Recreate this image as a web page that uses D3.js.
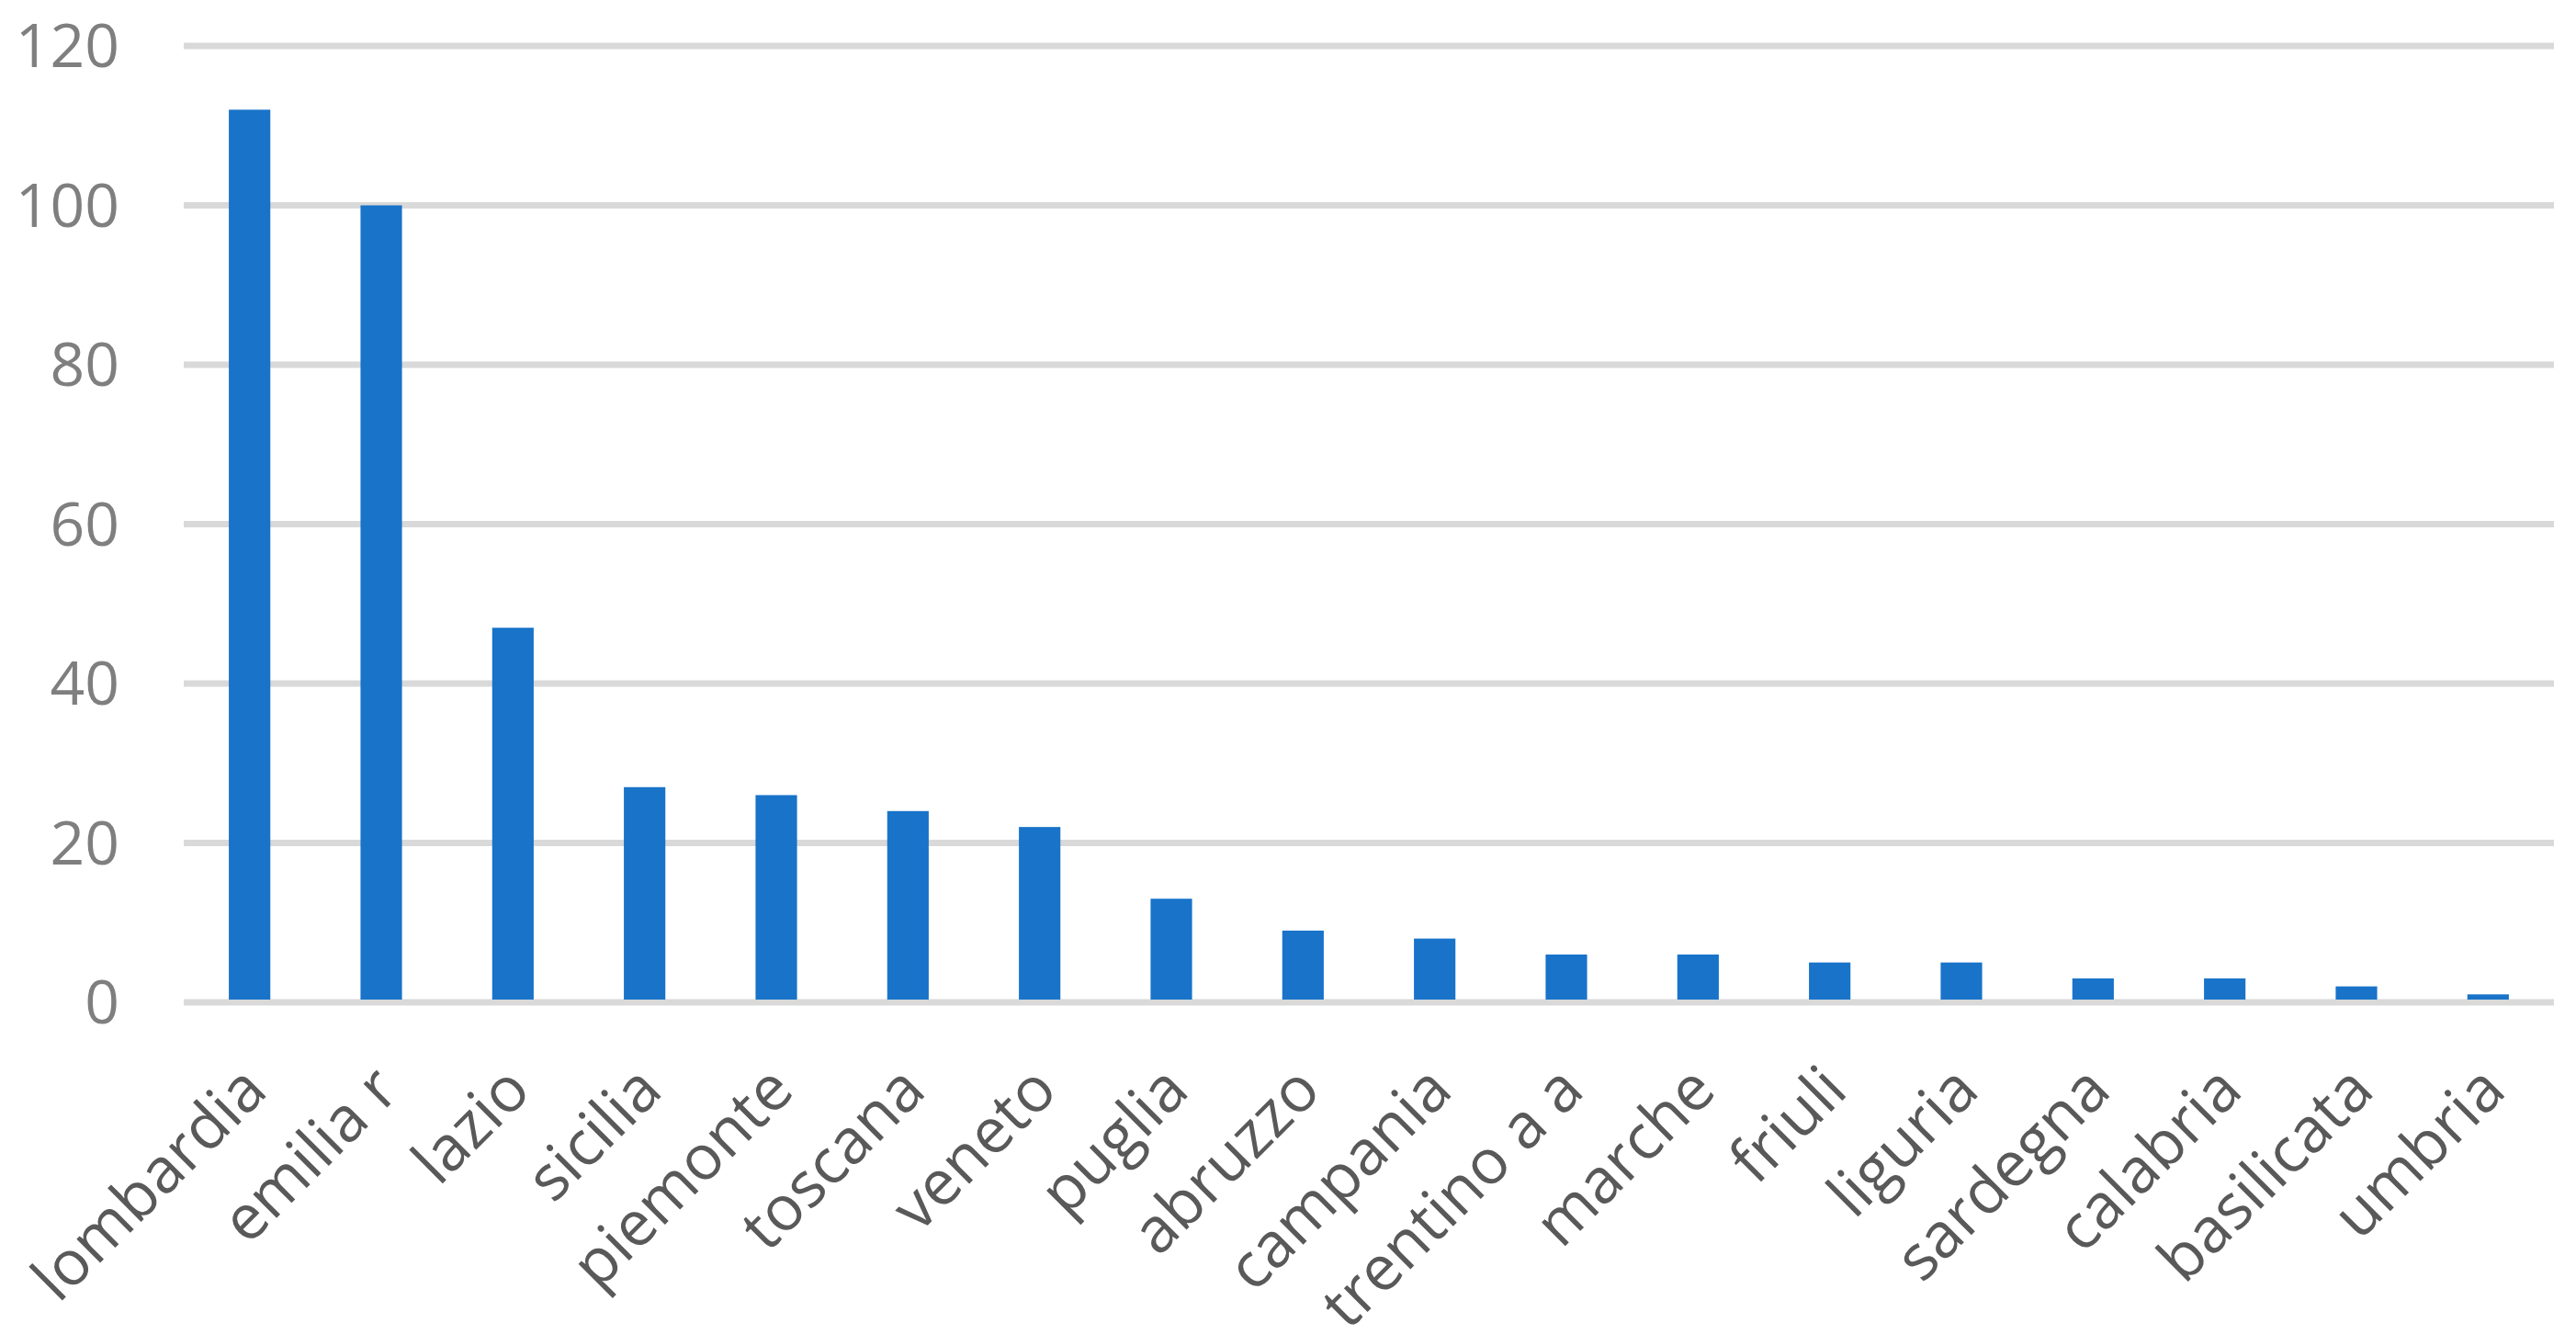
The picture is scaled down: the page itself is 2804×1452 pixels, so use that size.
<!DOCTYPE html>
<html lang="it">
<head>
	<title>Regioni</title>
	<meta charset='utf-8'>
	<script src="https://d3js.org/d3.v7.min.js" charset="utf-8"></script>
	<style>
	body { margin: 0; background: #fff; }
	.bar { fill: #1873c9; }
	.grid line { stroke: #d9d9d9; stroke-width: 7; }
	.ylab { fill: #7f7f7f; font-family: "Open Sans", sans-serif; font-size: 66px; }
	.xlab { fill: #595959; font-family: "Open Sans", sans-serif; font-size: 68px; }
	</style>
</head>
<body>
	<script>
	// data
	var regions = ["lombardia", "emilia r", "lazio", "sicilia", "piemonte", "toscana",
		"veneto", "puglia", "abruzzo", "campania", "trentino a a", "marche",
		"friuli", "liguria", "sardegna", "calabria", "basilicata", "umbria"];
	var counts = [112, 100, 47, 27, 26, 24, 22, 13, 9, 8, 6, 6, 5, 5, 3, 3, 2, 1];
	var yTicks = [0, 20, 40, 60, 80, 100, 120];

	var width = 2804;
	var height = 1452;
	var plotLeft = 200, plotRight = 2780, plotTop = 50, plotBottom = 1091;

	var svg = d3.select('body')
	.append('svg')
	.attr('width', width)
	.attr('height', height);

	var x = d3.scaleBand()
	.domain(regions)
	.range([plotLeft, plotRight])
	.paddingInner(0.685)
	.paddingOuter(0.3425);

	var y = d3.scaleLinear()
	.domain([0, 120])
	.range([plotBottom, plotTop]);

	// gridlines
	svg.append('g')
	.attr('class', 'grid')
	.selectAll('line')
	.data(yTicks)
	.enter()
	.append('line')
	.attr('x1', plotLeft)
	.attr('x2', plotRight)
	.attr('y1', function(d) { return y(d); })
	.attr('y2', function(d) { return y(d); });

	// y labels
	svg.append('g')
	.selectAll('text')
	.data(yTicks)
	.enter()
	.append('text')
	.attr('class', 'ylab')
	.attr('x', 130)
	.attr('y', function(d) { return y(d); })
	.attr('dy', '0.35em')
	.attr('text-anchor', 'end')
	.text(function(d) { return d; });

	// bars
	svg.append('g')
	.selectAll('rect')
	.data(counts)
	.enter()
	.append('rect')
	.attr('class', 'bar')
	.attr('x', function(d, i) { return x(regions[i]); })
	.attr('width', x.bandwidth())
	.attr('y', function(d) { return y(d); })
	.attr('height', function(d) { return plotBottom - y(d) - 3; });

	// rotated category labels
	svg.append('g')
	.selectAll('text')
	.data(regions)
	.enter()
	.append('text')
	.attr('class', 'xlab')
	.attr('text-anchor', 'end')
	.attr('transform', function(d) {
		var cx = x(d) + x.bandwidth() / 2 + 5;
		return 'translate(' + cx + ',' + (plotBottom + 82) + ') rotate(-45)';
	})
	.attr('dy', '0.35em')
	.text(function(d) { return d; });
	</script>
</body>
</html>
